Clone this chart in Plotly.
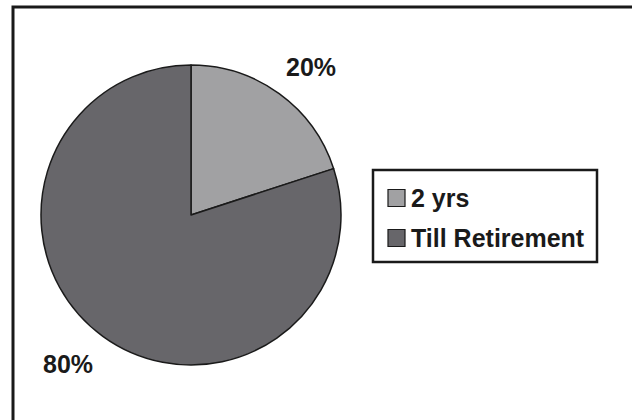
import plotly.graph_objects as go

# Share of employees by expected tenure
labels = ["2 yrs", "Till Retirement"]
values = [20, 80]
colors = ["#a1a1a3", "#67666a"]

W, H = 632, 420
FONT = "Liberation Sans, Arial, Helvetica, sans-serif"
INK = "#1a1a1a"

# pie geometry in pixels (centre and radius)
cx, cy, r = 191, 215, 150


def px(x):
    return x / W


def py(y):
    return 1 - y / H


fig = go.Figure(
    go.Pie(
        labels=labels,
        values=values,
        sort=False,
        direction="clockwise",
        rotation=0,
        marker=dict(colors=colors, line=dict(color=INK, width=1.5)),
        textinfo="none",
        hoverinfo="label+percent",
        showlegend=False,
        domain=dict(x=[px(cx - r), px(cx + r)], y=[py(cy + r), py(cy - r)]),
    )
)

total = sum(values)
pct = [f"{round(100 * v / total)}%" for v in values]

# percentage labels outside the slices
label_pos = [(311, 67), (68, 364)]
annotations = []
for text, (x, y) in zip(pct, label_pos):
    annotations.append(dict(
        x=px(x), y=py(y), xref="paper", yref="paper",
        text=f"<b>{text}</b>", showarrow=False,
        font=dict(family=FONT, size=25, color=INK),
        xanchor="center", yanchor="middle",
    ))

shapes = [
    # outer frame (only top and left edges fall inside the page)
    dict(type="rect", xref="paper", yref="paper",
         x0=px(13), x1=px(W + 20), y0=py(H + 20), y1=py(7),
         line=dict(color=INK, width=3), fillcolor="rgba(0,0,0,0)"),
    # legend box
    dict(type="rect", xref="paper", yref="paper",
         x0=px(373), x1=px(597), y0=py(262), y1=py(170),
         line=dict(color=INK, width=2.5), fillcolor="white"),
]

legend_rows = [198, 238]
for lab, col, y in zip(labels, colors, legend_rows):
    shapes.append(dict(
        type="rect", xref="paper", yref="paper",
        x0=px(388), x1=px(405), y0=py(y + 8.5), y1=py(y - 8.5),
        line=dict(color=INK, width=1.2), fillcolor=col,
    ))
    annotations.append(dict(
        x=px(409), y=py(y), xref="paper", yref="paper",
        text=f"<b>{lab}</b>", showarrow=False,
        font=dict(family=FONT, size=25, color=INK),
        xanchor="left", yanchor="middle",
    ))

fig.update_layout(
    width=W, height=H,
    margin=dict(l=0, r=0, t=0, b=0),
    paper_bgcolor="white",
    plot_bgcolor="white",
    shapes=shapes,
    annotations=annotations,
)

fig.write_html("out.html")
